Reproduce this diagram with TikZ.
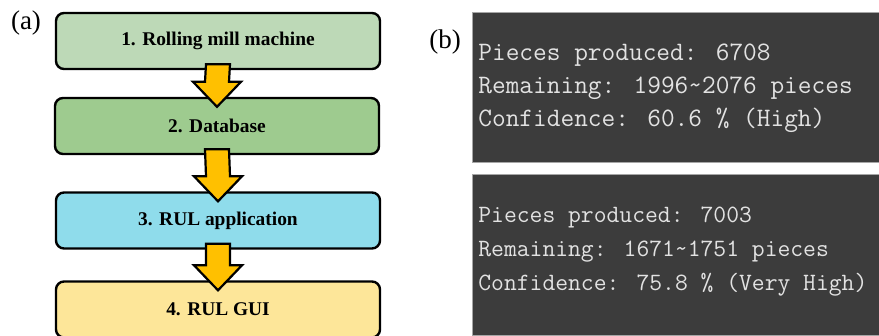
\documentclass[tikz,border=0pt]{standalone}
\usepackage{fontspec}
\usepackage{tikz}
\usetikzlibrary{calc,positioning}
\setmainfont{Liberation Serif}
\newfontfamily\termfont{Latin Modern Mono}
\definecolor{millG}{HTML}{BDD9B7}
\definecolor{baseG}{HTML}{9ECB8F}
\definecolor{appC}{HTML}{8FDCEB}
\definecolor{guiY}{HTML}{FDE699}
\definecolor{arrY}{HTML}{FFC000}
\definecolor{termBg}{HTML}{3C3C3C}
\definecolor{termFg}{HTML}{E2E2E2}
% block arrow from one box down to the next
\newcommand{\flowarrow}[2]{%
  \draw[flowarr] ($(#1.south)+(-12,-6)$) -- ($(#2.north)+(-12,-15)$)
    -- ++(-12,0) -- ($(#2.north)+(0,10)$) -- ($(#2.north)+(24,-15)$)
    -- ++(-12,0) -- ($(#1.south)+(12,-6)$) -- cycle;}

\begin{document}
\begin{tikzpicture}[x=0.5pt, y=-0.5pt,
    stepbox/.style={draw=black, line width=1.2pt, rounded corners=4pt,
      minimum width=162pt, minimum height=28pt,
      font=\fontsize{9.7}{11}\selectfont\bfseries},
    flowarr/.style={draw=black, line width=1.1pt, fill=arrY, line join=miter},
    panel/.style={fill=termBg, draw=gray!70, line width=0.5pt},
    termtext/.style={text=termFg, anchor=west, align=left, inner sep=0pt},
    tag/.style={font=\fontsize{13.5}{15}\selectfont}]
  \useasboundingbox (0,0) rectangle (879,336);

  % --- (a) flow of the four steps ---
  \node[tag] (taga) at (26,23) {(a)};
  \node[stepbox, fill=millG] (mill) at (218,41) {1. Rolling mill machine};
  \node[stepbox, fill=baseG] (base) at (217,126) {2. Database};
  \node[stepbox, fill=appC] (app) at (218,220.5) {3. RUL application};
  \node[stepbox, fill=guiY] (gui) at (218,309.5) {4. RUL GUI};

  \flowarrow{mill}{base}
  \flowarrow{base}{app}
  \flowarrow{app}{gui}

  % --- (b) two readouts of the GUI ---
  \node[tag] (tagb) at (445,42) {(b)};
  \draw[panel] (472,13) rectangle (879,163);
  \draw[panel] (472,175) rectangle (879,336);
  \node[termtext, font=\termfont\fontsize{13.3}{16.5}\selectfont] (first) at (478,88)
    {Pieces produced: 6708\\Remaining: 1996\string~2076 pieces\\Confidence: 60.6 \% (High)};
  \node[termtext, font=\termfont\fontsize{12.45}{17}\selectfont] (second) at (478,252)
    {Pieces produced: 7003\\Remaining: 1671\string~1751 pieces\\Confidence: 75.8 \% (Very High)};
\end{tikzpicture}
\end{document}
